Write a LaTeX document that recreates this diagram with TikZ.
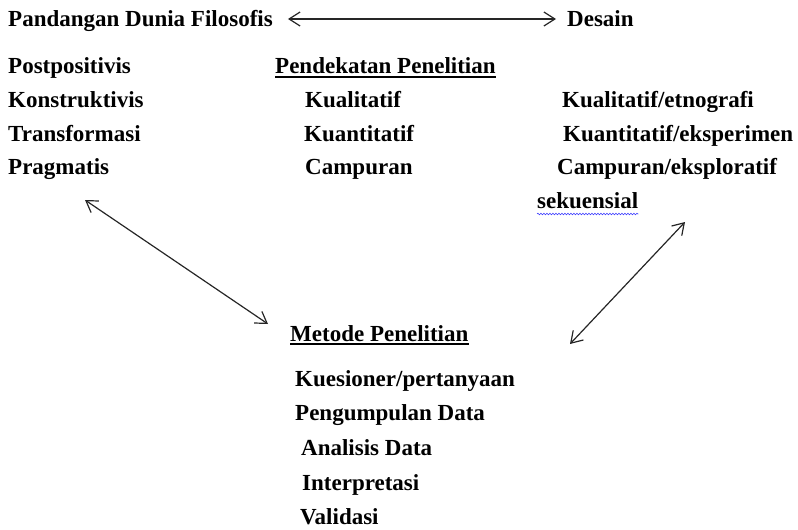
\documentclass[tikz,border=0pt]{standalone}
\usepackage{fontspec}
\setmainfont{Liberation Serif}
\usetikzlibrary{arrows.meta,decorations.pathmorphing}

\begin{document}
\begin{tikzpicture}[x=1pt, y=-1pt,
            every node/.style={font=\fontsize{23}{27}\selectfont\bfseries, inner sep=0pt, anchor=base west},
            link/.style={<->, draw=black!85, line width=1.2pt, >={Straight Barb[length=11pt,width=14pt]}},
            uline/.style={draw, line width=1.2pt},
            spell/.style={draw=blue!75!white, line width=0.6pt, decorate,
                          decoration={snake, amplitude=0.8pt, segment length=3pt}}]
        \useasboundingbox (0,0) rectangle (798,530);
        % header
        \node (dunia) at (8,26) {Pandangan Dunia Filosofis};
        \node (desain) at (567,26) {Desain};
        % worldviews
        \node (postpos) at (8,73) {Postpositivis};
        \node (konstr) at (8,107) {Konstruktivis};
        \node (transf) at (8,141) {Transformasi};
        \node (pragm) at (8,174) {Pragmatis};
        % approaches
        \node (pendekatan) at (275,73) {Pendekatan Penelitian};
        \node (kual) at (305,107) {Kualitatif};
        \node (kuan) at (304,141) {Kuantitatif};
        \node (camp) at (305,174) {Campuran};
        % designs
        \node (kualD) at (562,107) {Kualitatif/etnografi};
        \node (kuanD) at (563,141) {Kuantitatif/eksperimen};
        \node (campD) at (557,174) {Campuran/eksploratif};
        \node (sekuen) at (537,208) {sekuensial};
        % methods
        \node (metode) at (290,341) {Metode Penelitian};
        \node (kuesioner) at (295,386) {Kuesioner/pertanyaan};
        \node (pengumpulan) at (295,420) {Pengumpulan Data};
        \node (analisis) at (301,455) {Analisis Data};
        \node (interp) at (302,490) {Interpretasi};
        \node (validasi) at (300,524) {Validasi};

        \draw[uline] ([yshift=-4pt]pendekatan.base west) -- ([yshift=-4pt]pendekatan.base east);
        \draw[uline] ([yshift=-3pt]metode.base west) -- ([yshift=-3pt]metode.base east);
        \draw[spell] ([yshift=-6pt]sekuen.base west) -- ([yshift=-6pt]sekuen.base east);

        \coordinate (filEnd) at (85,200);
        \coordinate (metL) at (268,324);
        \coordinate (desEnd) at (685,222);
        \coordinate (metR) at (570,344);

        \draw[link] ([xshift=15pt,yshift=7pt]dunia.base east) -- ([xshift=-11pt,yshift=7pt]desain.base west);
        \draw[link] (filEnd) -- (metL);
        \draw[link] (desEnd) -- (metR);
\end{tikzpicture}
\end{document}
